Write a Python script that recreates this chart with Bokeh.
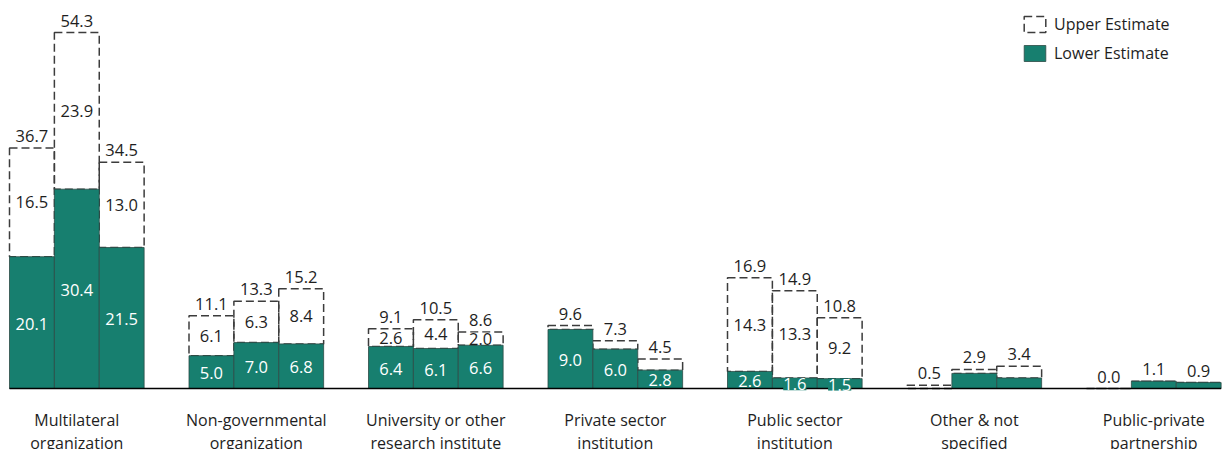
from bokeh.plotting import figure
from bokeh.models import ColumnDataSource, LabelSet, Legend, LegendItem, Range1d
from bokeh.core.properties import value
from bokeh.embed import file_html
from bokeh.resources import INLINE

# ---------------- data ----------------
categories = [
    "Multilateral\norganization",
    "Non-governmental\norganization",
    "University or other\nresearch institute",
    "Private sector\ninstitution",
    "Public sector\ninstitution",
    "Other & not\nspecified",
    "Public-private\npartnership",
]
bars_per_group = 3

lower_estimate = [20.1, 30.4, 21.5, 5.0, 7.0, 6.8, 6.4, 6.1, 6.6, 9.0, 6.0, 2.8,
                  2.6, 1.6, 1.5, 0.0, 2.3, 1.6, 0.0, 1.1, 0.9]
upper_estimate = [36.7, 54.3, 34.5, 11.1, 13.3, 15.2, 9.1, 10.5, 8.6, 9.6, 7.3, 4.5,
                  16.9, 14.9, 10.8, 0.5, 2.9, 3.4, 0.0, 1.1, 0.9]
gap_values = [16.5, 23.9, 13.0, 6.1, 6.3, 8.4, 2.6, 4.4, 2.0, 0.6, 1.3, 1.7,
              14.3, 13.3, 9.2, 0.5, 0.6, 1.8, 0.0, 0.0, 0.0]
show_lower_label = [1] * 15 + [0] * 6
show_gap_label = [1] * 9 + [0] * 3 + [1] * 3 + [0] * 6

# ---------------- styling ----------------
TEAL = "#177F6F"
DASH_COLOR = "#3c3c3c"
TEXT_COLOR = "#1e1e1e"
FONT = "Open Sans"
PX_PER_UNIT_Y = 356 / 54.3
PX_PER_UNIT_X = 179.5 / 4

n = len(lower_estimate)
x_center, x_left, x_right = [], [], []
for k in range(n):
    g, i = divmod(k, bars_per_group)
    left = g * (bars_per_group + 1) + i
    x_left.append(left)
    x_right.append(left + 1)
    x_center.append(left + 0.5)

src = ColumnDataSource(dict(
    x=x_center, left=x_left, right=x_right,
    lower=lower_estimate, upper=upper_estimate,
    zero=[0.0] * n,
    lower_mid=[v / 2 for v in lower_estimate],
    gap_mid=[(lo + up) / 2 for lo, up in zip(lower_estimate, upper_estimate)],
    lower_txt=[f"{v:.1f}" if s else "" for v, s in zip(lower_estimate, show_lower_label)],
    gap_txt=[f"{v:.1f}" if s else "" for v, s in zip(gap_values, show_gap_label)],
    upper_txt=[f"{v:.1f}" for v in upper_estimate],
))

W, H = 1229, 449
BASE_PX = 388
x0 = -9 / PX_PER_UNIT_X
y_top = BASE_PX / PX_PER_UNIT_Y
y_bot = -(H - BASE_PX) / PX_PER_UNIT_Y

p = figure(width=W, height=H, output_backend="svg", toolbar_location=None,
           x_range=Range1d(x0, x0 + W / PX_PER_UNIT_X),
           y_range=Range1d(y_bot, y_top),
           x_axis_location=None, y_axis_location=None, min_border=0)
p.outline_line_color = None
p.grid.visible = False
p.background_fill_color = "white"

upper_r = p.quad(left="left", right="right", bottom="lower", top="upper", source=src,
                 fill_color=None, line_color=DASH_COLOR, line_width=1.5, line_dash="8 4")
lower_r = p.quad(left="left", right="right", bottom="zero", top="lower", source=src,
                 fill_color=TEAL, line_color="#2c4a45", line_width=0.8)

# baseline
p.segment(x0=[min(x_left)], y0=[0], x1=[max(x_right)], y1=[0], line_color="black", line_width=1.3)

# labels
pad = {"padding": 2} if "padding" in LabelSet.properties() else {}
common = dict(text_font=value(FONT), text_font_size=value("16.5px"), text_align="center", source=src)
p.add_layout(LabelSet(x="x", y="lower_mid", text="lower_txt", text_color="white",
                      text_baseline="middle", background_fill_color=TEAL, y_offset=-1,
                      **pad, **common))
p.add_layout(LabelSet(x="x", y="gap_mid", text="gap_txt", text_color=TEXT_COLOR,
                      text_baseline="middle", background_fill_color="white", **common))
p.add_layout(LabelSet(x="x", y="upper", text="upper_txt", text_color=TEXT_COLOR,
                      text_baseline="middle", y_offset=12, background_fill_color="white", **common))

# category labels
cat_x = [g * (bars_per_group + 1) + bars_per_group / 2 for g in range(len(categories))]
cat_src = ColumnDataSource(dict(
    x=cat_x, y=[0.0] * len(categories),
    l1=[c.split("\n")[0] for c in categories],
    l2=[c.split("\n")[1] for c in categories],
))
for col, off in (("l1", -31), ("l2", -54)):
    p.add_layout(LabelSet(x="x", y="y", text=col, source=cat_src, y_offset=off,
                          text_font=value(FONT), text_font_size=value("16px"),
                          text_color=TEXT_COLOR,
                          text_align="center", text_baseline="middle"))

legend = Legend(items=[LegendItem(label="Upper Estimate", renderers=[upper_r]),
                       LegendItem(label="Lower Estimate", renderers=[lower_r])],
                location=(1021, 385), glyph_width=27, glyph_height=20, spacing=7,
                padding=0, margin=0, label_standoff=6, label_height=20,
                label_text_font=FONT, label_text_font_size="16px",
                label_text_color=TEXT_COLOR, border_line_color=None,
                background_fill_alpha=0)
p.add_layout(legend)

open("out.html", "w").write(file_html(p, INLINE))
